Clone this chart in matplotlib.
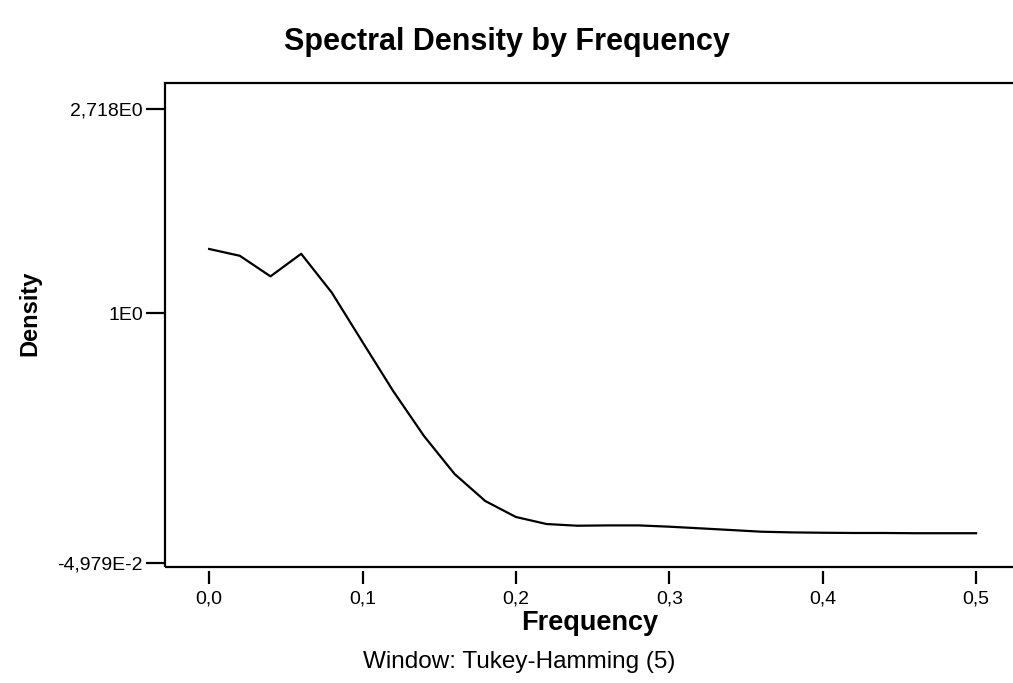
import matplotlib.pyplot as plt
import numpy as np
from matplotlib import font_manager
from matplotlib.patches import Rectangle

plt.rcParams['font.family'] = ['Liberation Sans', 'DejaVu Sans']

frequency = [0.00, 0.02, 0.04, 0.06, 0.08, 0.10, 0.12, 0.14, 0.16, 0.18,
             0.20, 0.22, 0.24, 0.26, 0.28, 0.30, 0.32, 0.34, 0.36, 0.38,
             0.40, 0.42, 0.44, 0.46, 0.48, 0.50]
density = [1.369, 1.324, 1.197, 1.337, 1.105, 0.706, 0.392, 0.229, 0.145, 0.1048,
           0.0865, 0.0795, 0.0779, 0.0782, 0.0782, 0.0770, 0.0755, 0.0740, 0.0725, 0.0719,
           0.0716, 0.0714, 0.0714, 0.0712, 0.0712, 0.0712]
x_ticks = [0.0, 0.1, 0.2, 0.3, 0.4, 0.5]
x_labels = ["0,0", "0,1", "0,2", "0,3", "0,4", "0,5"]
y_ticks = [np.exp(-3), np.exp(0), np.exp(1)]
y_labels = ["-4,979E-2", "1E0", "2,718E0"]


# SPSS spaces the ln-axis unevenly: ln -3..0 and 0..1 get their own lengths
def forward(v):
    l = np.log(np.clip(v, 1e-12, None))
    return np.where(l < 0, 254 + l * 250 / 3, 254 + l * 204)


def inverse(p):
    p = np.asarray(p, dtype=float)
    return np.exp(np.where(p < 254, (p - 254) * 3 / 250, (p - 254) / 204))


# condensed face for the y label if there is one
names = {f.name for f in font_manager.fontManager.ttflist}
if "Liberation Sans Narrow" in names:
    ylab_font, ylab_size = "Liberation Sans Narrow", 20
else:
    ylab_font, ylab_size = "Liberation Sans", 17

fig = plt.figure(figsize=(10.13, 6.83), dpi=100)
ax = fig.add_axes([0.163, 0.1698, 0.839, 0.7086])
ax.set_yscale("function", functions=(forward, inverse))
ax.plot(frequency, density, color="black", lw=1.6)

ax.set_xlim(-0.0287, 0.5254)
ax.set_ylim(inverse(0), inverse(484))
ax.set_xticks(x_ticks, x_labels)
ax.set_yticks(y_ticks, y_labels)
ax.minorticks_off()

for s in ax.spines.values():
    s.set_visible(False)
ax.spines['bottom'].set_position(('outward', 3))
ax.add_patch(Rectangle((0, 0), 1, 1, transform=ax.transAxes, fill=False,
                       lw=1.6, color="black", clip_on=False))
ax.tick_params(axis="y", length=14, width=1.6, labelsize=14, pad=2)
ax.tick_params(axis="x", length=9, width=1.6, labelsize=14, pad=5)

ax.set_xlabel("Frequency", fontsize=19.5, fontweight="bold", labelpad=2)
ax.set_ylabel("Density", fontsize=ylab_size, fontweight="bold",
              family=[ylab_font, "Liberation Sans"])
ax.yaxis.set_label_coords(-0.146, 0.525)
fig.text(0.5, 0.938, "Spectral Density by Frequency", ha="center", va="center",
         fontsize=22, fontweight="bold")
fig.text(0.513, 0.031, "Window: Tukey-Hamming (5)", ha="center", va="center",
         fontsize=17.5)

fig.savefig("out.png", dpi=100)
